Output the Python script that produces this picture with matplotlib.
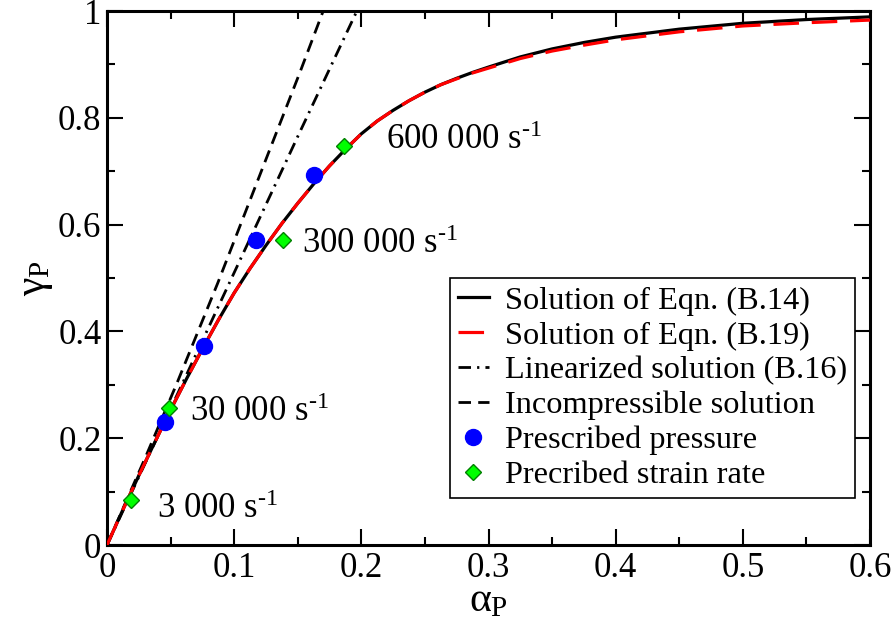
import matplotlib
matplotlib.use("Agg")
import matplotlib.pyplot as plt
from matplotlib.ticker import MultipleLocator

plt.rcParams['font.family'] = ['Liberation Serif', 'DejaVu Serif']
plt.rcParams['mathtext.fontset'] = 'custom'
plt.rcParams['mathtext.rm'] = 'Liberation Serif'
plt.rcParams['mathtext.it'] = 'Liberation Serif'
plt.rcParams['mathtext.bf'] = 'Liberation Serif:bold'

# ---- data ----
alpha_curve = [0, 0.0125, 0.025, 0.0375, 0.05, 0.0625, 0.075, 0.0875, 0.1,
               0.1125, 0.125, 0.1375, 0.15, 0.1625, 0.175, 0.1875, 0.2,
               0.2125, 0.225, 0.2375, 0.25, 0.2625, 0.275, 0.2875, 0.3,
               0.325, 0.35, 0.375, 0.4, 0.45, 0.5, 0.55, 0.6]
gamma_b14 = [0, 0.066, 0.130, 0.192, 0.253, 0.311, 0.367, 0.421, 0.472,
             0.518, 0.561, 0.602, 0.640, 0.676, 0.710, 0.741, 0.770,
             0.794, 0.814, 0.832, 0.848, 0.862, 0.874, 0.885, 0.895,
             0.914, 0.929, 0.941, 0.951, 0.966, 0.977, 0.984, 0.989]
gamma_b19 = [0, 0.066, 0.130, 0.192, 0.253, 0.311, 0.367, 0.421, 0.472,
             0.518, 0.561, 0.602, 0.640, 0.676, 0.710, 0.741, 0.770,
             0.794, 0.814, 0.832, 0.848, 0.862, 0.873, 0.884, 0.893,
             0.911, 0.925, 0.936, 0.946, 0.961, 0.972, 0.978, 0.983]

alpha_lin = [0, 0.05, 0.1, 0.15, 0.1965]
gamma_lin = [0, 0.255, 0.51, 0.765, 1.0]

alpha_inc = [0, 0.03, 0.055, 0.087, 0.123, 0.1517, 0.170]
gamma_inc = [0, 0.163, 0.303, 0.49, 0.71, 0.885, 1.0]

alpha_pres = [0.0459, 0.076, 0.1174, 0.163]
gamma_pres = [0.231, 0.373, 0.572, 0.692]

alpha_rate = [0.0185, 0.0485, 0.1384, 0.186]
gamma_rate = [0.085, 0.257, 0.571, 0.747]

rate_labels = ['3 000', '30 000', '300 000', '600 000']
label_alpha = [0.0393, 0.0653, 0.153, 0.2193]
label_gamma = [0.050, 0.232, 0.546, 0.741]

legend_labels = ['Solution of Eqn. (B.14)', 'Solution of Eqn. (B.19)',
                 'Linearized solution (B.16)', 'Incompressible solution',
                 'Prescribed pressure', 'Precribed strain rate']

# ---- figure ----
fig = plt.figure(figsize=(8.96, 6.32), dpi=100)
ax = fig.add_axes([107/896, 1-545/632, (870-107)/896, (545-11)/632])

h1, = ax.plot(alpha_curve, gamma_b14, color='black', lw=2.3, zorder=2)
h2, = ax.plot(alpha_curve, gamma_b19, color='red', lw=2.3, linestyle=(0, (8.0, 4.0)), zorder=3)
h3, = ax.plot(alpha_lin, gamma_lin, color='black', lw=2.0, linestyle=(0, (4.5, 2.2, 0.8, 2.2)), zorder=2)
h4, = ax.plot(alpha_inc, gamma_inc, color='black', lw=2.0, linestyle=(0, (4.5, 2.6)), zorder=2)
h5, = ax.plot(alpha_pres, gamma_pres, linestyle='none', marker='o', ms=11.5,
              color='#0000ff', mec='#0000ff', zorder=5)
h6, = ax.plot(alpha_rate, gamma_rate, linestyle='none', marker='D', ms=8.3,
              mfc='#00ff00', mec='#008000', mew=1.0, zorder=5)

for lab, xa, ya in zip(rate_labels, label_alpha, label_gamma):
    ax.text(xa, ya, lab + r' s$^{\text{-1}}$', fontsize=25, ha='left', va='baseline')

ax.set_xlim(0, 0.6)
ax.set_ylim(0, 1)
ax.xaxis.set_major_locator(MultipleLocator(0.1))
ax.xaxis.set_minor_locator(MultipleLocator(0.05))
ax.yaxis.set_major_locator(MultipleLocator(0.2))
ax.yaxis.set_minor_locator(MultipleLocator(0.1))

def fmt(v, pos):
    if abs(v) < 1e-9:
        return '0'
    if abs(v - 1) < 1e-9:
        return '1'
    return '%.1f' % v
ax.xaxis.set_major_formatter(plt.FuncFormatter(fmt))
ax.yaxis.set_major_formatter(plt.FuncFormatter(fmt))

ax.tick_params(which='both', direction='in', top=True, right=True, labelsize=25, width=1.5)
ax.tick_params(which='major', length=11.5)
ax.tick_params(which='minor', length=5.8)
ax.tick_params(axis='x', pad=5)
ax.tick_params(axis='y', pad=4)
for sp in ax.spines.values():
    sp.set_linewidth(2.2)

ax.set_xlabel(r'$\alpha_\mathrm{P}$', fontsize=30, labelpad=-2)
ax.set_ylabel(r'$\gamma_\mathrm{P}$', fontsize=30, labelpad=2)

leg = ax.legend([h1, h2, h3, h4, h5, h6], legend_labels, loc='upper right',
                bbox_to_anchor=(855/896, 1-278/632), bbox_transform=fig.transFigure,
                fontsize=23.3, frameon=True, fancybox=False, framealpha=1,
                edgecolor='black', handlelength=0.95, handletextpad=0.5,
                labelspacing=0.16, borderpad=0.25, borderaxespad=0, numpoints=1)
leg.get_frame().set_linewidth(1.2)

fig.savefig('out.png', dpi=100)
